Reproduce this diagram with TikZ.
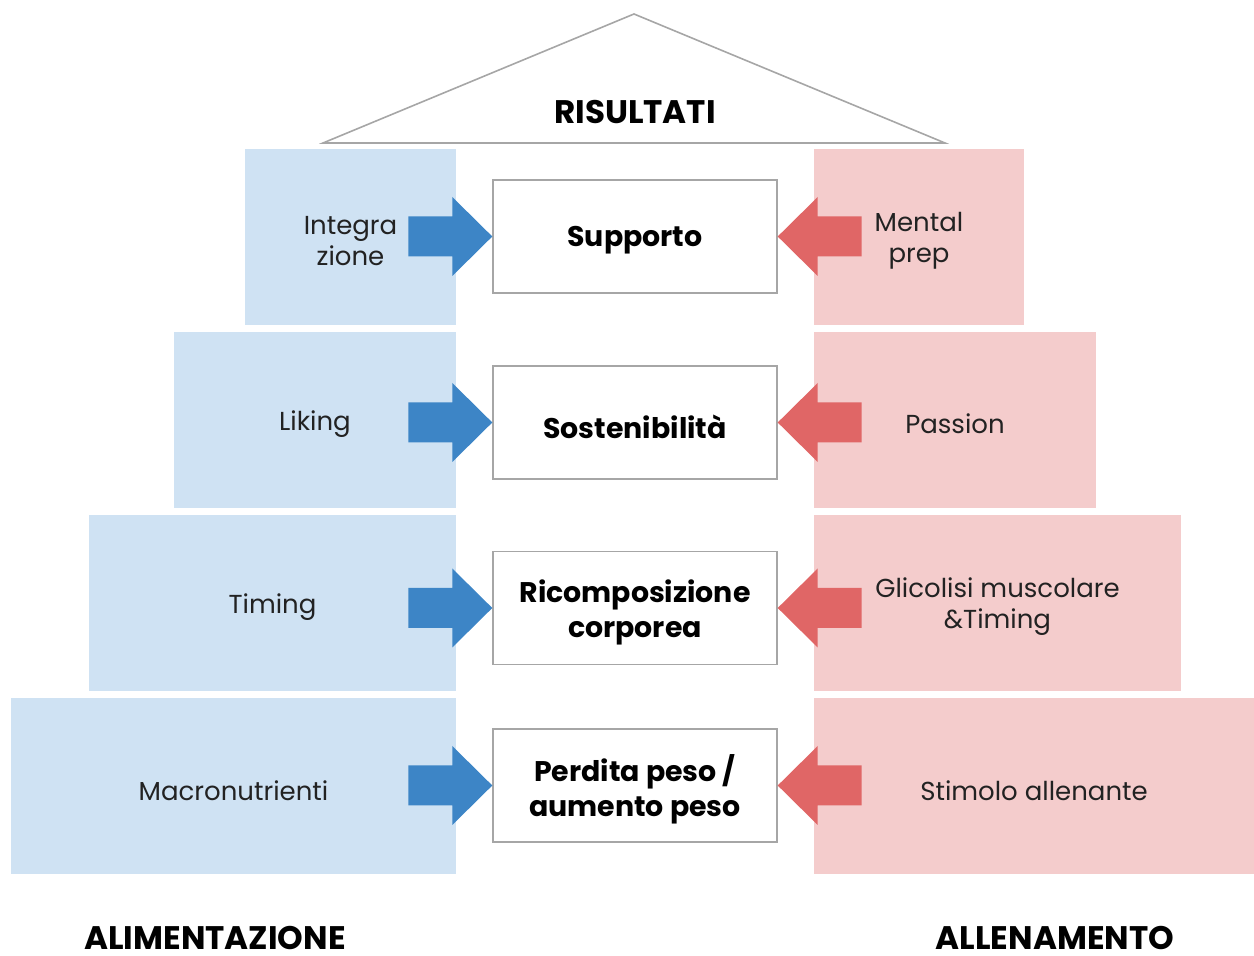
\documentclass[tikz,border=0pt]{standalone}
\usepackage{fontspec}
\setmainfont{Poppins}
\usetikzlibrary{calc}
\definecolor{lblue}{HTML}{CFE2F3}
\definecolor{lpink}{HTML}{F4CCCC}
\definecolor{ablue}{HTML}{3D85C6}
\definecolor{ared}{HTML}{E06666}
\definecolor{bgray}{HTML}{A6A6A6}
\definecolor{txt}{HTML}{222222}
\begin{document}
\begin{tikzpicture}[x=0.5pt,y=-0.5pt,
  sidetext/.style={inner sep=0pt, yshift=-2pt, align=center, text=txt,
    font=\fontsize{13}{15.5}\selectfont},
  sidebox/.style={inner sep=0pt, minimum height=88pt},
  bbox/.style={sidebox, fill=lblue},
  pbox/.style={sidebox, fill=lpink},
  ctext/.style={inner sep=0pt, yshift=-2pt, align=center, text=black,
    font=\bfseries\fontsize{14.2}{17.5}\selectfont},
  cbox/.style={draw=bgray, line width=0.7pt, fill=white, inner sep=0pt,
    minimum width=142pt, minimum height=56.5pt},
  title/.style={text=black, inner sep=0pt, font=\bfseries\fontsize{16.3}{18}\selectfont},
  barrow/.style={fill=ablue},
  rarrow/.style={fill=ared}]
\useasboundingbox (0,0) rectangle (1254,956);
% roof
\draw[bgray, line width=0.8pt, line join=miter] (634,14) -- (945,143) -- (323,143) -- cycle;
\node[title] (ris) at (635,112) {RISULTATI};
% left boxes
\node[bbox, minimum width=105.5pt, label={[sidetext]center:Integra\\zione}] (l1) at (350.5,237) {};
\node[bbox, minimum width=141pt,   label={[sidetext]center:Liking}] (l2) at (315,420) {};
\node[bbox, minimum width=183.5pt, label={[sidetext]center:Timing}] (l3) at (272.5,603) {};
\node[bbox, minimum width=222.5pt, label={[sidetext]center:Macronutrienti}] (l4) at (233.5,786.5) {};
% right boxes
\node[pbox, minimum width=105pt,   label={[sidetext]center:Mental\\prep}] (r1) at (919,237) {};
\node[pbox, minimum width=141pt,   label={[sidetext]center:Passion}] (r2) at (955,420) {};
\node[pbox, minimum width=183.5pt, label={[sidetext]center:Glicolisi muscolare\\\&Timing}] (r3) at (997.5,603) {};
\node[pbox, minimum width=220pt,   label={[sidetext]center:Stimolo allenante}] (r4) at (1034,786.5) {};
% centre boxes
\node[cbox, label={[ctext]center:Supporto}] (c1) at (635,236.5) {};
\node[cbox, label={[ctext]center:Sostenibilità}] (c2) at (635,422.5) {};
\node[cbox, label={[ctext]center:Ricomposizione\\corporea}] (c3) at (635,608) {};
\node[cbox, label={[ctext]center:Perdita peso /\\aumento peso}] (c4) at (635,785.5) {};
% arrows
\foreach \c in {c1,c2,c3,c4}{
  \fill[barrow] (\c.west) -- ++(-40,-39.5) -- ++(0,19.5) -- ++(-44,0) -- ++(0,40) -- ++(44,0) -- ++(0,19.5) -- cycle;
  \fill[rarrow] (\c.east) -- ++(40,-39.5) -- ++(0,19.5) -- ++(44,0) -- ++(0,40) -- ++(-44,0) -- ++(0,19.5) -- cycle;
}
% bottom labels
\node[title, anchor=base, text depth=0pt] (alim) at (215,950) {ALIMENTAZIONE};
\node[title, anchor=base, text depth=0pt] (alle) at (1055,950) {ALLENAMENTO};
\end{tikzpicture}
\end{document}
